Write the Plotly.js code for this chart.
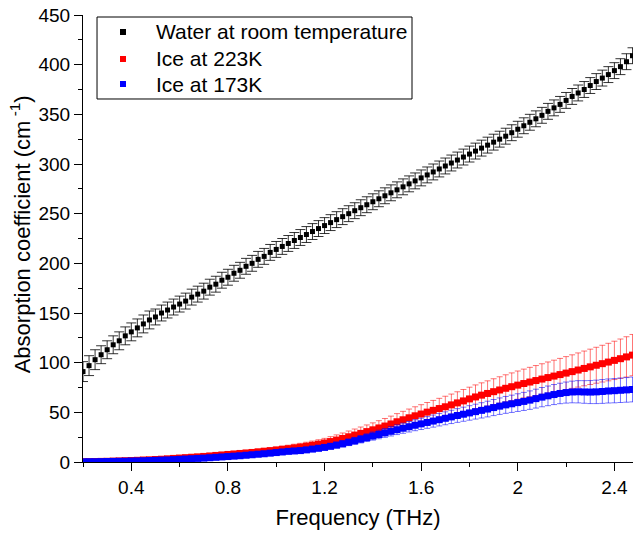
<!DOCTYPE html>
<html>
<head>
<meta charset="utf-8">
<script src="https://cdn.plot.ly/plotly-3.0.1.min.js"></script>
<style>html,body{margin:0;padding:0;background:#fff;}#chart{width:633px;height:534px;}</style>
</head>
<body>
<div id="chart"></div>
<script>
var freq = [0.2,0.225,0.25,0.275,0.3,0.325,0.35,0.375,0.4,0.425,0.45,0.475,0.5,0.525,0.55,0.575,0.6,0.625,0.65,0.675,0.7,0.725,0.75,0.775,0.8,0.825,0.85,0.875,0.9,0.925,0.95,0.975,1.0,1.025,1.05,1.075,1.1,1.125,1.15,1.175,1.2,1.225,1.25,1.275,1.3,1.325,1.35,1.375,1.4,1.425,1.45,1.475,1.5,1.525,1.55,1.575,1.6,1.625,1.65,1.675,1.7,1.725,1.75,1.775,1.8,1.825,1.85,1.875,1.9,1.925,1.95,1.975,2.0,2.025,2.05,2.075,2.1,2.125,2.15,2.175,2.2,2.225,2.25,2.275,2.3,2.325,2.35,2.375,2.4,2.425,2.45,2.475];

var water = [91,97,103,108,113,118,122,127,131,135,139,143,146,150,153,156,159,162,166,169,172,176,179,183,186,190,193,197,200,204,207,211,214,217,220,223,226,229,232,235,238,241,244,247,250,253,256,259,262,265,268,271,274,277,280,283,286,289,292,295,298,301,304,307,310,313,316,319,322,325,328,331.5,335,338.5,342,345.5,349,353,356.5,360,364,368,371.5,375,379,383,386.5,390,394,398,403,409];
var waterErr = [10,10,10,9,9,9,9,9,9,9,9,9,8,8,8,8,8,8,8,8,8,8,8,8,8,8,8,8,8,8,8,8,8,8,8,8,8,8,8,8,8,8,8,8,8,8,8,8,8,8,8,8,8,8,8,8,8,8,8,8,8,8,8,8,8,8,8,8,8,8,8,8,8,8,8,8,8,8,8,8,8,8,8,8,8,8,8,8,8,8,8,8];

var ice223 = [0.3,0.4,0.5,0.6,0.7,0.9,1.1,1.3,1.5,1.7,2.0,2.2,2.5,2.8,3.2,3.6,4.0,4.4,4.8,5.2,5.6,6.1,6.6,7.1,7.6,8.1,8.6,9.1,9.6,10.2,10.8,11.4,12.0,12.7,13.4,14.2,15.0,15.9,16.9,18.0,19.2,20.6,22.1,23.7,25.4,27.1,28.8,30.6,32.4,34.3,36.2,38.3,40.5,42.5,44.5,46.5,48.3,50.2,52.0,53.8,55.6,57.5,59.5,61.5,63.5,65.5,67.3,69.0,70.8,72.5,74.2,75.8,77.4,79.0,80.5,82.0,83.5,85.0,86.5,88.0,89.5,91.0,92.6,94.2,95.8,97.4,99.0,100.6,102.3,104.0,105.8,107.6];
var ice223Err = [0.5,0.5,0.5,0.6,0.6,0.7,0.7,0.8,0.8,0.9,0.9,1.0,1.0,1.1,1.2,1.3,1.4,1.5,1.6,1.7,1.8,1.9,2.0,2.1,2.2,2.3,2.5,2.6,2.7,2.8,3.0,3.1,3.2,3.4,3.5,3.7,3.8,4.0,4.2,4.4,4.6,4.9,5.2,5.5,5.8,6.1,6.4,6.7,7.0,7.3,7.6,7.9,8.2,8.5,8.8,9.1,9.4,9.7,10.0,10.3,10.6,10.9,11.2,11.5,11.8,12.1,12.4,12.7,13.0,13.3,13.6,13.9,14.2,14.5,14.8,15.1,15.4,15.7,16.0,16.3,16.6,16.9,17.2,17.5,17.8,18.1,18.5,18.9,19.3,19.8,20.3,20.8];

var ice173 = [0.2,0.3,0.3,0.4,0.5,0.6,0.7,0.8,1.0,1.1,1.3,1.5,1.7,1.9,2.1,2.4,2.7,3.0,3.3,3.6,3.9,4.3,4.7,5.1,5.5,5.9,6.3,6.8,7.3,7.8,8.3,8.9,9.5,10.1,10.7,11.1,11.5,12.2,13.0,13.8,14.7,15.8,17.0,18.3,19.8,21.3,22.9,24.5,26.1,27.7,29.3,30.9,32.5,34.0,35.5,37.0,38.4,39.8,41.2,42.6,44.0,45.4,46.8,48.1,49.4,50.7,52.0,53.3,54.8,56.2,57.5,58.6,59.8,61.0,62.3,63.8,65.3,66.6,67.9,69.0,69.9,70.5,70.7,70.5,70.4,70.6,71.0,71.5,71.8,72.2,72.6,73.0];
var ice173Err = [0.4,0.4,0.4,0.4,0.5,0.5,0.5,0.5,0.6,0.6,0.6,0.7,0.7,0.7,0.8,0.8,0.9,0.9,1.0,1.0,1.1,1.1,1.2,1.2,1.3,1.3,1.4,1.4,1.5,1.5,1.6,1.6,1.7,1.8,1.9,2.0,2.1,2.2,2.3,2.4,2.5,2.7,2.9,3.1,3.3,3.5,3.7,3.9,4.1,4.3,4.5,4.7,4.9,5.1,5.3,5.5,5.7,5.9,6.1,6.3,6.5,6.7,6.9,7.1,7.3,7.5,7.7,7.9,8.1,8.3,8.5,8.7,8.9,9.1,9.3,9.5,9.7,9.9,10.1,10.3,10.6,10.9,11.2,11.4,11.6,11.8,12.0,12.1,12.2,12.3,12.4,12.5];

var seriesNames = ['Water at room temperature', 'Ice at 223K', 'Ice at 173K'];
var seriesColors = ['#000000', '#ff0000', '#0000ff'];
var FONT = 'Liberation Sans, Arial, sans-serif';

function mk(name, y, err, color, errColor, size, capw) {
  return {
    type: 'scatter', mode: 'markers', name: name, x: freq, y: y, showlegend: false,
    marker: {symbol: 'square', size: size, color: color, line: {width: 0}},
    error_y: {type: 'data', array: err, visible: true, color: errColor, thickness: 1, width: capw}
  };
}

var data = [
  mk(seriesNames[0], water, waterErr, seriesColors[0], 'rgba(0,0,0,0.8)', 5, 5),
  mk(seriesNames[1], ice223, ice223Err, seriesColors[1], 'rgba(255,0,0,0.55)', 7, 3),
  mk(seriesNames[2], ice173, ice173Err, seriesColors[2], 'rgba(0,0,255,0.55)', 7, 3)
];

// custom legend (box, symbols, labels) in paper coordinates
var legRows = [0.9620, 0.9016, 0.8456];
var shapes = [{
  type: 'rect', xref: 'paper', yref: 'paper',
  x0: 0.0255, x1: 0.5982, y0: 0.8121, y1: 0.9955,
  line: {color: '#000000', width: 1}, fillcolor: '#ffffff', layer: 'above'
}];
var annotations = [];
for (var i = 0; i < seriesNames.length; i++) {
  shapes.push({
    type: 'rect', xref: 'paper', yref: 'paper',
    xsizemode: 'pixel', ysizemode: 'pixel', xanchor: 0.0727, yanchor: legRows[i],
    x0: -3, x1: 3, y0: -3, y1: 3,
    line: {width: 0}, fillcolor: seriesColors[i], layer: 'above'
  });
  annotations.push({
    xref: 'paper', yref: 'paper', x: 0.129, y: legRows[i],
    xanchor: 'left', yanchor: 'middle', showarrow: false,
    text: seriesNames[i], font: {family: FONT, size: 21, color: '#000000'}
  });
}
// y-axis title placed as rotated annotation
annotations.push({
  xref: 'paper', yref: 'paper', x: -0.114, y: 0.51,
  xanchor: 'center', yanchor: 'middle', showarrow: false, textangle: -90,
  text: 'Absorption coefficient (cm<sup> -1</sup>)', font: {family: FONT, size: 22, color: '#000000'}
});

var layout = {
  width: 633, height: 534,
  margin: {l: 83, r: 0, t: 15, b: 72},
  paper_bgcolor: '#ffffff', plot_bgcolor: '#ffffff',
  font: {family: FONT, color: '#000000', size: 19},
  showlegend: false,
  shapes: shapes,
  annotations: annotations,
  xaxis: {
    range: [0.2, 2.477], showgrid: false, zeroline: false,
    showline: true, linecolor: '#000000', linewidth: 1, mirror: false,
    ticks: 'outside', ticklen: 8, tickwidth: 1, tickcolor: '#000000',
    tick0: 0.4, dtick: 0.4,
    minor: {ticks: 'outside', ticklen: 4, tickcolor: '#000000', dtick: 0.2, tick0: 0.2, showgrid: false},
    tickfont: {family: FONT, size: 19, color: '#000000'},
    title: {text: 'Frequency (THz)', font: {family: FONT, size: 22, color: '#000000'}, standoff: 12}
  },
  yaxis: {
    range: [0, 450], showgrid: false, zeroline: false,
    showline: true, linecolor: '#000000', linewidth: 1,
    ticks: 'outside', ticklen: 8, tickwidth: 1, tickcolor: '#000000',
    tick0: 0, dtick: 50,
    minor: {ticks: 'outside', ticklen: 4, tickcolor: '#000000', dtick: 25, tick0: 0, showgrid: false},
    tickfont: {family: FONT, size: 19, color: '#000000'}
  }
};

Plotly.newPlot('chart', data, layout, {displayModeBar: false, staticPlot: true});
</script>
</body>
</html>
